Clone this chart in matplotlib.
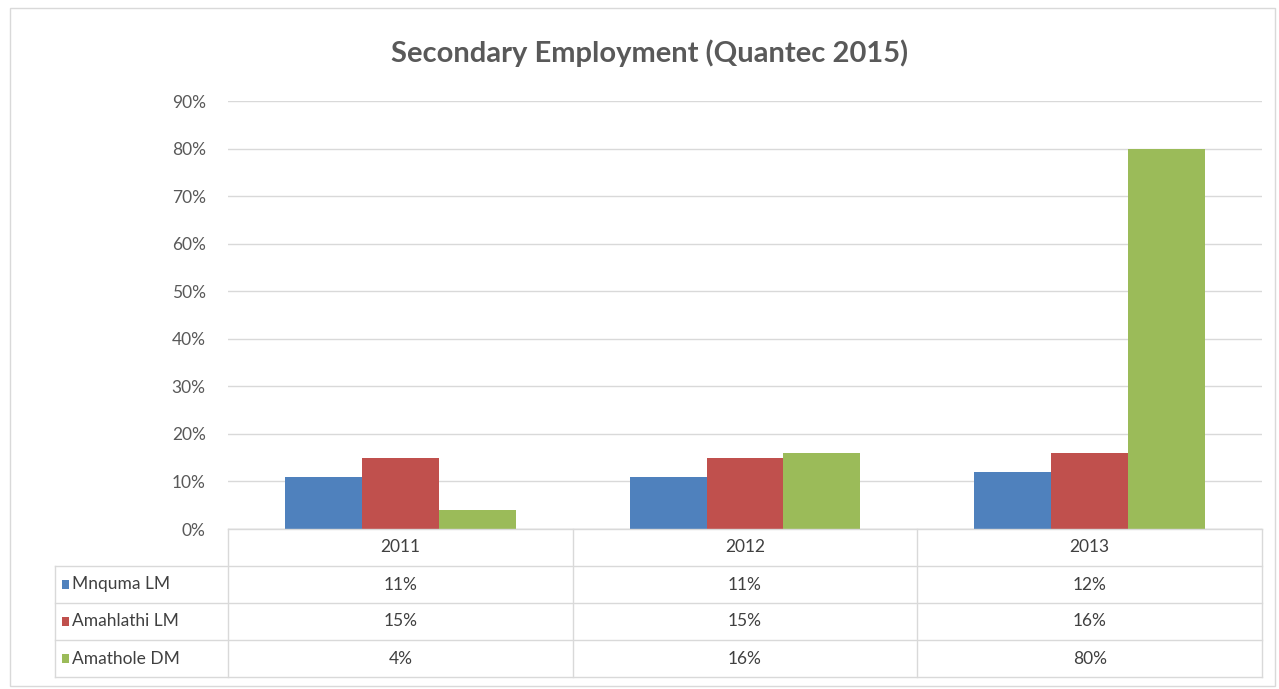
import numpy as np
import matplotlib.pyplot as plt
import matplotlib.transforms as mtransforms
from matplotlib.patches import Rectangle

plt.rcParams['font.family'] = ['Lato', 'DejaVu Sans']

years = ['2011', '2012', '2013']
series_names = ['Mnquma LM', 'Amahlathi LM', 'Amathole DM']
mnquma = [11, 11, 12]
amahlathi = [15, 15, 16]
amathole = [4, 16, 80]
series_values = [mnquma, amahlathi, amathole]
colors = ['#4f81bd', '#c0504d', '#9bbb59']
yticks = [0, 10, 20, 30, 40, 50, 60, 70, 80, 90]

W, H = 1279, 689
fig = plt.figure(figsize=(W / 100, H / 100), dpi=100)

# outer chart frame
fig.patches.append(Rectangle((10 / W, 1 - 686 / H), 1265 / W, 678 / H,
                             transform=fig.transFigure, fill=False,
                             edgecolor='#d9d9d9', linewidth=1))

ax = fig.add_axes([228 / W, 1 - 529 / H, (1262 - 228) / W, (529 - 101) / H])

x = np.arange(len(years))
bw = 0.223
for i, (vals, c) in enumerate(zip(series_values, colors)):
    ax.bar(x + (i - 1) * bw, vals, width=bw, color=c, zorder=3)

ax.set_xlim(-0.5, 2.5)
ax.set_ylim(0, 90)
ax.set_yticks(yticks)
ax.set_yticklabels([f'{t}%' for t in yticks], fontsize=12.5, color='#595959')
ax.tick_params(axis='y', length=0, pad=16)
ax.set_xticks([])
ax.grid(axis='y', color='#d9d9d9', linewidth=1, zorder=0)
for s in ax.spines.values():
    s.set_visible(False)
ax.axhline(0, color='#d9d9d9', linewidth=1, zorder=4)

ax.set_title('Secondary Employment (Quantec 2015)', fontsize=21, fontweight='bold',
             color='#595959', pad=28, x=0.408)

# data table under the plot
trans = mtransforms.blended_transform_factory(ax.transData, ax.transAxes)
ph = 529 - 101
row_px = [529, 566, 603, 640, 677]
row_y = [(529 - r) / ph for r in row_px]
left = -0.5 - (228 - 55) / 344.7
line_kw = dict(color='#d9d9d9', linewidth=1, transform=trans, clip_on=False)

# horizontal lines
ax.plot([-0.5, 2.5], [row_y[0], row_y[0]], **line_kw)
for yy in row_y[1:]:
    ax.plot([left, 2.5], [yy, yy], **line_kw)
# vertical lines
ax.plot([left, left], [row_y[1], row_y[-1]], **line_kw)
for xx in [-0.5, 0.5, 1.5, 2.5]:
    ax.plot([xx, xx], [row_y[0], row_y[-1]], **line_kw)

for j, yr in enumerate(years):
    ax.text(j, (row_y[0] + row_y[1]) / 2, yr, transform=trans, ha='center',
            va='center', fontsize=12.5, color='#404040')

for i, (name, vals, c) in enumerate(zip(series_names, series_values, colors)):
    yc = (row_y[i + 1] + row_y[i + 2]) / 2
    ax.add_patch(Rectangle((left + 0.02, yc - 0.01), 0.02, 0.02, transform=trans,
                           facecolor=c, edgecolor='none', clip_on=False))
    ax.text(left + 0.05, yc, name, transform=trans, ha='left', va='center',
            fontsize=12.5, color='#404040')
    for j, v in enumerate(vals):
        ax.text(j, yc, f'{v}%', transform=trans, ha='center', va='center',
                fontsize=12.5, color='#404040')

fig.savefig('out.png', dpi=100)
